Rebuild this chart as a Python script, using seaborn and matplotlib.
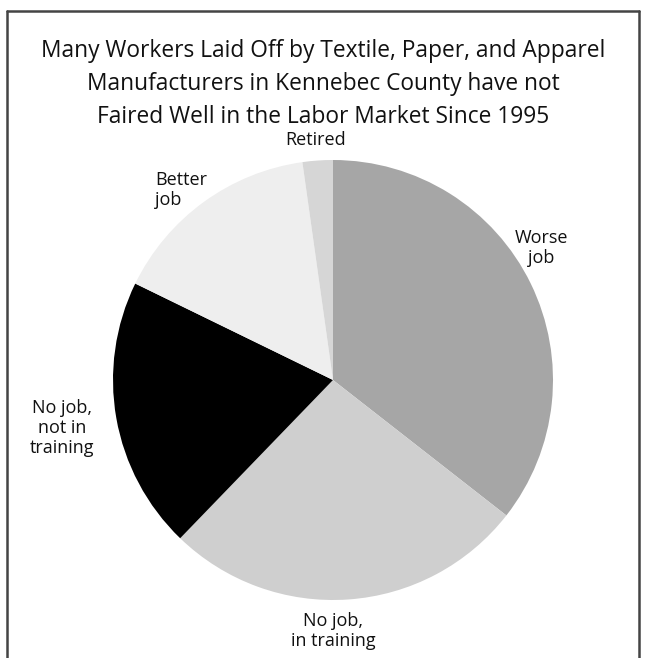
import numpy as np
import matplotlib
matplotlib.use("Agg")
import matplotlib.pyplot as plt
import seaborn as sns

# Outcomes of laid-off workers (counts), clockwise from 12 o'clock
outcomes = ["Worse\njob", "No job,\nin training", "No job,\nnot in\ntraining", "Better\njob", "Retired"]
counts = [16, 12, 9, 7, 1]
shades = ["#a6a6a6", "#cfcfcf", "#000000", "#eeeeee", "#d6d6d6"]

title = ("Many Workers Laid Off by Textile, Paper, and Apparel\n"
         "Manufacturers in Kennebec County have not\n"
         "Faired Well in the Labor Market Since 1995")

sns.set_theme(style="white")
plt.rcParams['font.family'] = ['Open Sans', 'DejaVu Sans']

W, H = 647, 658
fig = plt.figure(figsize=(W / 100, H / 100), dpi=100)

# frame: top, left and right edges only
for xs, ys in [([7, 639], [11, 11]), ([7, 7], [11, H]), ([639, 639], [11, H])]:
    fig.add_artist(plt.Line2D(np.array(xs) / W, 1 - np.array(ys) / H,
                              color="#444444", lw=1.8, transform=fig.transFigure))

fig.text(0.5, 1 - 84 / H, title, ha="center", va="center", fontsize=16.4,
         linespacing=1.5, color="#111111")

# pie: centre (333, 380) px, radius 220 px
cx, cy, r = 333, 380, 220
ax = fig.add_axes([(cx - r) / W, 1 - (cy + r) / H, 2 * r / W, 2 * r / H])
ax.pie(counts, colors=shades, startangle=90, counterclock=False,
       wedgeprops=dict(linewidth=0))
ax.set_xlim(-1, 1)
ax.set_ylim(-1, 1)
ax.set_aspect("auto")
ax.axis("off")

# label positions in pixels
label_px = [(541, 248), (333, 631), (62, 428), (175, 190), (316, 140)]
aligns = ["center", "center", "center", "left", "center"]
for lab, (px, py), al in zip(outcomes, label_px, aligns):
    x = (px - cx) / r
    y = (cy - py) / r
    if al == "left":
        x -= 20 / r
    ax.text(x, y, lab, ha=al, va="center", fontsize=13, linespacing=1.12,
            color="#111111", clip_on=False)

fig.savefig("out.png", dpi=100)
